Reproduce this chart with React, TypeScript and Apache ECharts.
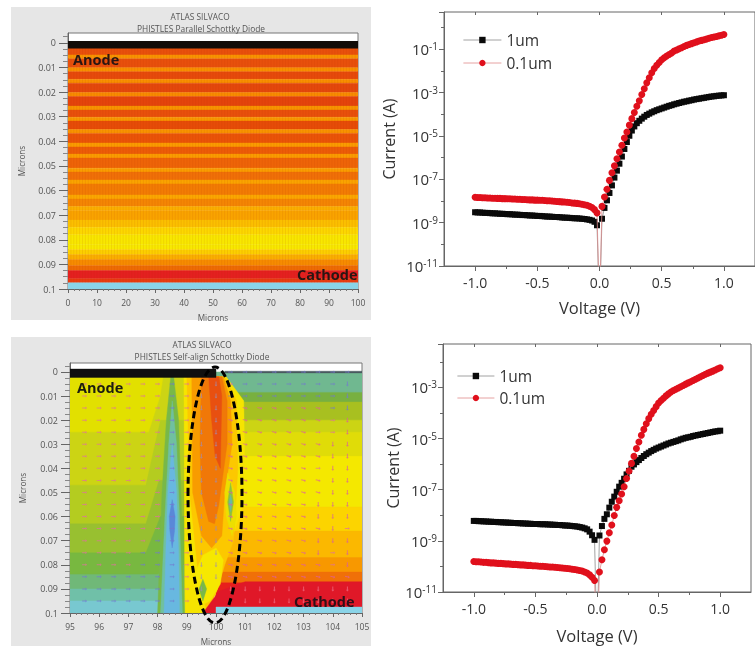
import React, { useEffect, useRef } from "react";
import * as echarts from "echarts";

const FONT = "'Open Sans', sans-serif";

// ---------- I-V curves: log10(current in A) against voltage ----------
const voltage = [
  -1.0, -0.98, -0.96, -0.94, -0.92, -0.9, -0.88, -0.86, -0.84, -0.82,
  -0.8, -0.78, -0.76, -0.74, -0.72, -0.7, -0.68, -0.66, -0.64, -0.62,
  -0.6, -0.58, -0.56, -0.54, -0.52, -0.5, -0.48, -0.46, -0.44, -0.42,
  -0.4, -0.38, -0.36, -0.34, -0.32, -0.3, -0.28, -0.26, -0.24, -0.22,
  -0.2, -0.18, -0.16, -0.14, -0.12, -0.1, -0.08, -0.06, -0.04, -0.02,
  0,
  0.02, 0.04, 0.06, 0.08, 0.1, 0.12, 0.14, 0.16, 0.18, 0.2,
  0.22, 0.24, 0.26, 0.28, 0.3, 0.32, 0.34, 0.36, 0.38, 0.4,
  0.42, 0.44, 0.46, 0.48, 0.5, 0.52, 0.54, 0.56, 0.58, 0.6,
  0.62, 0.64, 0.66, 0.68, 0.7, 0.72, 0.74, 0.76, 0.78, 0.8,
  0.82, 0.84, 0.86, 0.88, 0.9, 0.92, 0.94, 0.96, 0.98, 1.0,
];
const parallel1um = [
  -8.52, -8.53, -8.53, -8.54, -8.55, -8.55, -8.56, -8.57, -8.57, -8.58,
  -8.59, -8.59, -8.6, -8.61, -8.61, -8.62, -8.63, -8.63, -8.64, -8.65,
  -8.65, -8.66, -8.67, -8.67, -8.68, -8.69, -8.69, -8.7, -8.71, -8.72,
  -8.72, -8.73, -8.74, -8.74, -8.75, -8.76, -8.77, -8.77, -8.78, -8.79,
  -8.8, -8.8, -8.81, -8.82, -8.83, -8.85, -8.87, -8.9, -8.96, -9.12,
  -13,
  -8.82, -8.32, -7.97, -7.63, -7.28, -6.92, -6.6, -6.28, -5.95, -5.6,
  -5.28, -4.99, -4.75, -4.56, -4.41, -4.3, -4.2, -4.11, -4.03, -3.97,
  -3.91, -3.86, -3.81, -3.77, -3.73, -3.69, -3.65, -3.61, -3.58, -3.54,
  -3.51, -3.48, -3.45, -3.42, -3.4, -3.37, -3.35, -3.32, -3.3, -3.28,
  -3.26, -3.24, -3.22, -3.2, -3.18, -3.17, -3.15, -3.14, -3.13, -3.12,
];
const parallel01um = [
  -7.83, -7.84, -7.84, -7.85, -7.85, -7.86, -7.86, -7.87, -7.87, -7.88,
  -7.88, -7.89, -7.89, -7.9, -7.9, -7.91, -7.91, -7.92, -7.92, -7.93,
  -7.93, -7.94, -7.95, -7.95, -7.96, -7.96, -7.97, -7.97, -7.98, -7.99,
  -7.99, -8.0, -8.01, -8.02, -8.03, -8.04, -8.05, -8.06, -8.07, -8.09,
  -8.1, -8.11, -8.13, -8.15, -8.17, -8.2, -8.24, -8.3, -8.4, -8.55,
  -13,
  -8.25, -7.82, -7.46, -7.05, -6.7, -6.38, -6.05, -5.74, -5.43, -5.09,
  -4.82, -4.5, -4.2, -3.92, -3.63, -3.38, -3.09, -2.82, -2.55, -2.31,
  -2.08, -1.89, -1.74, -1.61, -1.48, -1.39, -1.31, -1.24, -1.17, -1.08,
  -1.03, -0.98, -0.93, -0.87, -0.82, -0.78, -0.74, -0.7, -0.66, -0.62,
  -0.59, -0.56, -0.53, -0.49, -0.46, -0.43, -0.41, -0.38, -0.35, -0.32,
];
const selfAlign1um = [
  -8.22, -8.22, -8.23, -8.23, -8.24, -8.24, -8.25, -8.25, -8.26, -8.26,
  -8.27, -8.27, -8.28, -8.28, -8.29, -8.29, -8.3, -8.3, -8.31, -8.31,
  -8.32, -8.32, -8.33, -8.33, -8.34, -8.34, -8.34, -8.35, -8.35, -8.35,
  -8.36, -8.36, -8.37, -8.37, -8.38, -8.38, -8.39, -8.4, -8.4, -8.41,
  -8.42, -8.43, -8.44, -8.46, -8.48, -8.51, -8.55, -8.64, -8.78, -8.96,
  -13,
  -8.79, -8.42, -8.14, -7.96, -7.7, -7.47, -7.27, -7.08, -6.88, -6.73,
  -6.57, -6.4, -6.26, -6.1, -6.01, -5.92, -5.84, -5.76, -5.68, -5.61,
  -5.55, -5.49, -5.44, -5.39, -5.35, -5.31, -5.27, -5.23, -5.19, -5.16,
  -5.13, -5.1, -5.07, -5.03, -5.0, -4.97, -4.95, -4.93, -4.9, -4.88,
  -4.86, -4.84, -4.82, -4.8, -4.78, -4.76, -4.74, -4.72, -4.71, -4.69,
];
const selfAlign01um = [
  -9.81, -9.82, -9.82, -9.83, -9.84, -9.84, -9.85, -9.86, -9.86, -9.87,
  -9.88, -9.88, -9.89, -9.9, -9.9, -9.91, -9.92, -9.92, -9.93, -9.94,
  -9.94, -9.95, -9.96, -9.96, -9.97, -9.97, -9.98, -9.99, -9.99, -10.0,
  -10.01, -10.02, -10.02, -10.03, -10.04, -10.05, -10.06, -10.07, -10.08, -10.09,
  -10.11, -10.12, -10.14, -10.16, -10.18, -10.22, -10.26, -10.33, -10.42, -10.55,
  -13,
  -10.22, -9.74, -9.35, -9.01, -8.68, -8.38, -8.01, -7.69, -7.43, -7.17,
  -6.88, -6.56, -6.27, -5.97, -5.69, -5.39, -5.13, -4.87, -4.64, -4.42,
  -4.22, -4.05, -3.9, -3.75, -3.61, -3.51, -3.42, -3.33, -3.25, -3.18,
  -3.12, -3.07, -3.02, -2.97, -2.92, -2.87, -2.82, -2.78, -2.73, -2.68,
  -2.63, -2.58, -2.53, -2.48, -2.44, -2.4, -2.36, -2.32, -2.27, -2.23,
];

// ---------- Parallel diode map: horizontal layers by depth ----------
const layerEdges = [
  0.002, 0.0049, 0.0065, 0.0101, 0.0117, 0.0148, 0.0164, 0.0202, 0.0218, 0.0257, 0.0273,
  0.0302, 0.0318, 0.0352, 0.0368, 0.0407, 0.0423, 0.0452, 0.0468, 0.0509, 0.0525,
  0.0557, 0.0573, 0.0618, 0.0634, 0.0665, 0.0681, 0.072, 0.075, 0.078, 0.082, 0.084,
  0.086, 0.088, 0.0905, 0.0925, 0.0958, 0.0975, 0.1003,
];
const layerColors = [
  "#e8500c", "#f89400", "#e8500c", "#f89000", "#e64a0c", "#f89000", "#e4480c", "#f88c00", "#e4440c", "#f89400",
  "#e8500c", "#f89800", "#e64c08", "#f89400", "#ea5408", "#fa9c00", "#ec5c08", "#fa9c00", "#ee6408", "#fa9e00",
  "#f07008", "#faa400", "#f27c04", "#fba800", "#f48604", "#fbb000", "#f9a400", "#fbc000", "#fcd800", "#f8e800",
  "#f8ea00", "#fcd000", "#fab000", "#f68c00", "#ee6c04", "#e42020", "#e83c10", "#8ad4e8",
];
const meshColumns = [
  1, 2, 3, 4, 5, 6, 7, 8, 9, 10, 11, 12, 13, 14, 15, 16, 17, 18, 19, 20, 21, 22, 23, 24, 25, 26, 27, 28, 29, 30, 31, 32, 33,
  34, 35, 36, 37, 38, 39, 40, 41, 42, 43, 44, 45, 46, 47, 48, 49, 50, 51, 52, 53, 54, 55, 56, 57, 58, 59, 60, 61, 62, 63, 64, 65, 66,
  67, 68, 69, 70, 71, 72, 73, 74, 75, 76, 77, 78, 79, 80, 81, 82, 83, 84, 85, 86, 87, 88, 89, 90, 91, 92, 93, 94, 95, 96, 97, 98, 99,
];

// ---------- Self-aligned diode map: contour zones (micron, micron), back to front ----------
const zoneColors = [
  "#e2e000", "#ccd414", "#b4cc20", "#98c030", "#78b840", "#70b878", "#70c0a8", "#78c8d0",
  "#70b890", "#78b040", "#a8c020", "#ccd414", "#e0dc08", "#f4e800", "#fcd400", "#fbb800", "#f89800", "#f07008", "#e8201c",
  "#78b848", "#70c0a0", "#68b8e0", "#5a88d8",
  "#f6e400", "#fcc800", "#f89c00", "#f07808", "#e85010",
  "#f6e800", "#78b848", "#ecdf00", "#8cc040", "#68b8a8",
  "#e01828", "#8ad4e8", "#101010", "#4a5a60",
];
const zonePoints: number[][][] = [
  [[95, 0.002], [99.2, 0.002], [99.2, 0.1], [95, 0.1]],
  [[95, 0.025], [97.7, 0.025], [98.1, 0.01], [98.2, 0.002], [98.9, 0.002], [98.9, 0.1], [95, 0.1]],
  [[95, 0.047], [97.6, 0.047], [98.1, 0.02], [98.9, 0.02], [98.9, 0.1], [95, 0.1]],
  [[95, 0.063], [97.6, 0.063], [98.05, 0.045], [98.9, 0.045], [98.9, 0.1], [95, 0.1]],
  [[95, 0.075], [97.6, 0.075], [98.1, 0.06], [98.9, 0.06], [98.9, 0.1], [95, 0.1]],
  [[95, 0.084], [98, 0.084], [98.9, 0.08], [98.9, 0.1], [95, 0.1]],
  [[95, 0.09], [98.9, 0.09], [98.9, 0.1], [95, 0.1]],
  [[95, 0.095], [98.9, 0.095], [98.9, 0.1], [95, 0.1]],

  [[100, 0], [105, 0], [105, 0.1], [100, 0.1]],
  [[100, 0.0085], [105, 0.0085], [105, 0.1], [100, 0.1]],
  [[100, 0.0125], [105, 0.0125], [105, 0.1], [100, 0.1]],
  [[100, 0.02], [105, 0.02], [105, 0.1], [100, 0.1]],
  [[100, 0.025], [105, 0.025], [105, 0.1], [100, 0.1]],
  [[100, 0.035], [105, 0.035], [105, 0.1], [100, 0.1]],
  [[100, 0.056], [105, 0.056], [105, 0.1], [100, 0.1]],
  [[100, 0.066], [105, 0.066], [105, 0.1], [100, 0.1]],
  [[100, 0.077], [105, 0.077], [105, 0.1], [100, 0.1]],
  [[100, 0.083], [105, 0.083], [105, 0.1], [100, 0.1]],
  [[100, 0.0875], [105, 0.0875], [105, 0.1], [100, 0.1]],

  [[98.45, 0.002], [98.55, 0.002], [98.72, 0.02], [98.8, 0.05], [98.92, 0.1], [98.0, 0.1], [98.15, 0.05], [98.3, 0.02]],
  [[98.5, 0.012], [98.65, 0.03], [98.75, 0.06], [98.85, 0.1], [98.1, 0.1], [98.25, 0.06], [98.38, 0.03]],
  [[98.5, 0.03], [98.65, 0.05], [98.72, 0.075], [98.75, 0.1], [98.22, 0.1], [98.28, 0.075], [98.35, 0.05]],
  [[98.5, 0.053], [98.6, 0.06], [98.58, 0.066], [98.5, 0.073], [98.42, 0.066], [98.4, 0.06]],

  [[98.9, 0.002], [100.35, 0.002], [100.95, 0.012], [100.98, 0.035], [100.9, 0.056], [100.3, 0.078], [100.05, 0.09], [99.7, 0.1], [98.95, 0.1]],
  [[99.0, 0.002], [100.3, 0.002], [100.7, 0.012], [100.75, 0.04], [100.6, 0.07], [100.3, 0.08], [100.05, 0.09], [99.7, 0.1], [99.4, 0.085], [99.1, 0.05]],
  [[99.17, 0.002], [100.25, 0.002], [100.5, 0.012], [100.55, 0.03], [100.3, 0.05], [100.2, 0.068], [99.85, 0.073], [99.5, 0.068], [99.2, 0.05]],
  [[99.5, 0.002], [100.2, 0.002], [100.38, 0.012], [100.38, 0.03], [100.1, 0.055], [99.95, 0.063], [99.75, 0.062], [99.5, 0.05], [99.45, 0.03]],
  [[99.75, 0.002], [100.1, 0.002], [100.2, 0.01], [100.15, 0.04], [99.97, 0.035], [99.85, 0.02]],

  [[99.3, 0.083], [99.55, 0.076], [100, 0.073], [100.25, 0.078], [100.15, 0.088], [99.8, 0.095], [99.45, 0.097]],
  [[99.55, 0.086], [99.68, 0.09], [99.55, 0.095], [99.42, 0.09]],
  [[100.4, 0.042], [100.65, 0.05], [100.7, 0.06], [100.55, 0.068], [100.35, 0.06], [100.3, 0.05]],
  [[100.5, 0.046], [100.6, 0.054], [100.5, 0.062], [100.4, 0.054]],
  [[100.5, 0.051], [100.55, 0.054], [100.5, 0.058], [100.45, 0.054]],

  [[101.0, 0.087], [105, 0.087], [105, 0.0975], [100, 0.0975], [100, 0.1], [99.55, 0.1], [100.1, 0.091]],
  [[100, 0.0975], [105, 0.0975], [105, 0.1003], [100, 0.1003]],
  [[95, -0.0012], [100, -0.0012], [100, 0.0023], [95, 0.0023]],
  [[100.3, -0.0003], [105, -0.0003], [105, 0.0004], [100.3, 0.0004]],
];

// ---------- Self-aligned diode map: current-direction arrows ----------
const arrowColumns = [95.5, 96, 96.5, 97, 97.5, 98, 98.5, 99, 99.5, 100, 100.5, 101, 101.5, 102, 102.5, 103, 103.5, 104, 104.5];
const arrowRows = [0, 0.005, 0.01, 0.015, 0.02, 0.025, 0.03, 0.035, 0.04, 0.045, 0.05, 0.055, 0.06, 0.065, 0.07, 0.075, 0.08, 0.085, 0.09, 0.095];
const arrowCodes = [
  "..........bbbbbbbbb",
  "hhhhhhbhgghbbbbbbbu",
  "hhhhhhbhggbbbbbbbbu",
  "hhhhhhbhggdddddddbu",
  "hhhhhhbhggdddddddhv",
  "hhhhhhbhggddddddhhv",
  "hhhhhhbhggdddddddvv",
  "hhhhhhbhggdddddddvv",
  "hhhhhhbhggddddddhvv",
  "hhhhhhbhggdddddddvv",
  "hhhhhhbhggdddddddvv",
  "hhhhhhbhggddddddvvv",
  "hhhhhhbhggddddddvvv",
  "hhhhhhbhggdddddddvh",
  "hhhhhbbhggddddddvvv",
  "hhhhbbbhggddddddvhv",
  "hhhhbbbhggdddddddhv",
  "bbbbbbbhggddddddddd",
  "bbbbbbbhg.rrrrrrrrr",
  "bbbbbbbh..rrrrrrrrr",
];
const arrowStyles: Record<string, { rotate: number; color: string }> = {
  h: { rotate: 0, color: "#e070a0" },
  b: { rotate: 0, color: "#7478d0" },
  g: { rotate: -90, color: "#a08cb4" },
  d: { rotate: -14, color: "#e0609c" },
  v: { rotate: -90, color: "#d8609c" },
  u: { rotate: -90, color: "#7478d0" },
  r: { rotate: -90, color: "#f07088" },
};

// ---------- Tick labels ----------
const depthMajor = [0, 0.01, 0.02, 0.03, 0.04, 0.05, 0.06, 0.07, 0.08, 0.09, 0.1];
const depthMinor = [
  0.0025, 0.005, 0.0075, 0.0125, 0.015, 0.0175, 0.0225, 0.025, 0.0275, 0.0325, 0.035, 0.0375, 0.0425, 0.045, 0.0475,
  0.0525, 0.055, 0.0575, 0.0625, 0.065, 0.0675, 0.0725, 0.075, 0.0775, 0.0825, 0.085, 0.0875, 0.0925, 0.095, 0.0975, -0.0025,
];
const voltageMajor = [-1, -0.5, 0, 0.5, 1];
const voltageMinor = [-0.75, -0.25, 0.25, 0.75];

const blackLine = { lineStyle: { color: "#666", width: 1 } };
const axisLine = { show: true, onZero: false, ...blackLine };

function heatX(gridIndex: number, min: number, max: number, interval: number) {
  return {
    type: "value", gridIndex, min, max, interval, position: "bottom",
    name: "Microns", nameLocation: "middle", nameGap: 24,
    nameTextStyle: { fontFamily: FONT, fontSize: 8.2, color: "#555" },
    axisLine,
    axisTick: { show: true, length: 4, ...blackLine },
    minorTick: { show: true, splitNumber: 5, length: 2, lineStyle: { color: "#777", width: 1 } },
    axisLabel: { fontFamily: FONT, fontSize: 8.5, color: "#555", margin: 9, hideOverlap: false },
    splitLine: { show: false },
  };
}
function heatY(gridIndex: number, min: number, nameGap: number) {
  return {
    type: "value", gridIndex, min, max: 0.1, inverse: true, position: "left",
    name: "Microns", nameLocation: "middle", nameGap,
    nameTextStyle: { fontFamily: FONT, fontSize: 8.2, color: "#555" },
    axisLine,
    axisTick: { show: true, length: 9, customValues: depthMajor, ...blackLine },
    axisLabel: { fontFamily: FONT, fontSize: 9, color: "#555", margin: 12, customValues: depthMajor, formatter: (v: number) => String(v) },
    splitLine: { show: false },
  };
}
function heatYMinor(gridIndex: number, min: number) {
  return {
    type: "value", gridIndex, min, max: 0.1, inverse: true, position: "left",
    axisLine: { show: false, onZero: false },
    axisTick: { show: true, length: 5, customValues: depthMinor, lineStyle: { color: "#888", width: 1 } },
    axisLabel: { show: false },
    splitLine: { show: false },
  };
}
function voltX(gridIndex: number, nameGap: number) {
  return {
    type: "value", gridIndex, min: -1.25, max: 1.25, position: "bottom",
    name: "Voltage (V)", nameLocation: "middle", nameGap,
    nameTextStyle: { fontFamily: FONT, fontSize: 16.5, color: "#333" },
    axisLine,
    axisTick: { show: true, length: 5, customValues: voltageMajor, ...blackLine },
    axisLabel: { fontFamily: FONT, fontSize: 14, color: "#333", margin: 9, customValues: voltageMajor, formatter: (v: number) => v.toFixed(1) },
    splitLine: { show: false },
  };
}
function voltXExtra(gridIndex: number, position: string, values: number[], inside: boolean, length: number) {
  return {
    type: "value", gridIndex, min: -1.25, max: 1.25, position,
    axisLine: { show: false, onZero: false },
    axisTick: { show: true, inside, length, customValues: values, ...blackLine },
    axisLabel: { show: false },
    splitLine: { show: false },
  };
}
function currentY(gridIndex: number, max: number, nameGap: number) {
  return {
    type: "value", gridIndex, min: -11, max, interval: 2, position: "left",
    name: "Current (A)", nameLocation: "middle", nameGap,
    nameTextStyle: { fontFamily: FONT, fontSize: 16, color: "#333" },
    axisLine,
    axisTick: { show: true, length: 5, ...blackLine },
    minorTick: { show: true, splitNumber: 2, length: 3, lineStyle: { color: "#666", width: 1 } },
    axisLabel: {
      margin: 6, showMaxLabel: false, showMinLabel: true, hideOverlap: false,
      formatter: (v: number) => `{b|10}{s|${v}}`,
      rich: {
        b: { fontFamily: FONT, fontSize: 15, color: "#333" },
        s: { fontFamily: FONT, fontSize: 10, color: "#333", verticalAlign: "top", padding: [0, 0, 6, 0] },
      },
    },
    splitLine: { show: false },
  };
}

function zoneSeries(xAxisIndex: number, yAxisIndex: number, points: number[][][], colors: string[]) {
  return {
    type: "custom", xAxisIndex, yAxisIndex, silent: true, clip: true, z: 2,
    data: points.map((_, i) => [i, 0]),
    renderItem: (_: unknown, api: any) => {
      const i = api.value(0);
      return {
        type: "polygon",
        shape: { points: points[i].map((p) => api.coord(p)) },
        style: { fill: colors[i], stroke: colors[i], lineWidth: 0.4 },
      };
    },
  };
}
function layerPoints(): number[][][] {
  return layerColors.map((_, i) => [
    [0, layerEdges[i]], [100, layerEdges[i]], [100, layerEdges[i + 1]], [0, layerEdges[i + 1]],
  ]);
}
function meshSeries() {
  return {
    type: "custom", xAxisIndex: 0, yAxisIndex: 0, silent: true, z: 3,
    data: meshColumns.map((x) => [x, 0]),
    renderItem: (_: unknown, api: any) => {
      const x = api.value(0);
      const a = api.coord([x, 0.002]);
      const b = api.coord([x, 0.0975]);
      return {
        type: "line",
        shape: { x1: a[0], y1: a[1], x2: b[0], y2: b[1] },
        style: { stroke: "#b03000", opacity: 0.1, lineWidth: 1 },
      };
    },
  };
}
function arrowData() {
  const out: any[] = [];
  arrowCodes.forEach((row, r) => {
    row.split("").forEach((code, c) => {
      const st = arrowStyles[code];
      if (!st) return;
      out.push({
        value: [arrowColumns[c], arrowRows[r]],
        symbolRotate: st.rotate,
        itemStyle: { color: st.color },
      });
    });
  });
  return out;
}
function curve(name: string, values: number[], xAxisIndex: number, yAxisIndex: number, black: boolean) {
  return {
    name, type: "line", xAxisIndex, yAxisIndex, clip: true, z: black ? 3 : 4,
    data: voltage.map((v, i) => [v, values[i]]),
    showSymbol: true, showAllSymbol: true,
    symbol: black ? "rect" : "circle",
    symbolSize: black ? 6 : 7,
    itemStyle: { color: black ? "#0a0a0a" : "#e0101c" },
    lineStyle: { color: black ? "#8a8a8a" : "#e08a8a", width: 0.8 },
  };
}
function legendBox(left: number, top: number, gap: number, width: number) {
  return {
    show: true, orient: "vertical", left, top, itemGap: gap, itemWidth: width, itemHeight: 8,
    selectedMode: false, data: ["1um", "0.1um"],
    lineStyle: { width: 0.8 },
    textStyle: { fontFamily: FONT, fontSize: 15.5, color: "#333" },
  };
}
function caption(text: string, x: number, y: number, size: number, weight: string, fill: string, align = "center") {
  return { type: "text", x, y, z: 100, silent: true, style: { text, fontFamily: FONT, fontSize: size, fontWeight: weight, fill, align, verticalAlign: "middle" } };
}

export default function App() {
  const ref = useRef<HTMLDivElement>(null);
  useEffect(() => {
    const chart = echarts.init(ref.current!, undefined, { renderer: "svg" });
    chart.setOption({
      animation: false,
      backgroundColor: "#ffffff",
      grid: [
        { left: 68, top: 33, width: 290, height: 256, show: true, backgroundColor: "#ffffff", borderColor: "#777", borderWidth: 1 },
        { left: 70, top: 363, width: 292, height: 251, show: true, backgroundColor: "#ffffff", borderColor: "#777", borderWidth: 1 },
        { left: 444, top: 12, width: 315, height: 254, show: true, borderColor: "#666", borderWidth: 1 },
        { left: 443, top: 344, width: 308, height: 248, show: true, borderColor: "#666", borderWidth: 1 },
      ],
      xAxis: [
        heatX(0, 0, 100, 10),
        heatX(1, 95, 105, 1),
        voltX(2, 33),
        voltXExtra(2, "bottom", voltageMinor, false, 3),
        voltXExtra(2, "top", voltageMajor, true, 3),
        voltX(3, 35),
        voltXExtra(3, "bottom", voltageMinor, false, 3),
        voltXExtra(3, "top", voltageMajor, true, 3),
      ],
      yAxis: [
        heatY(0, -0.004, 43),
        heatY(1, -0.0037, 44),
        heatYMinor(0, -0.004),
        heatYMinor(1, -0.0037),
        currentY(2, 0.72, 47),
        currentY(3, -1.3, 42),
      ],
      legend: [legendBox(458, 27, 7, 38), legendBox(452, 363, 6, 37)],
      series: [
        zoneSeries(0, 0, layerPoints(), layerColors),
        meshSeries(),
        zoneSeries(1, 1, zonePoints, zoneColors),
        {
          type: "scatter", xAxisIndex: 1, yAxisIndex: 1, silent: true, z: 5,
          symbol: "path://M0,2 L8,2 L8,0 L12,3 L8,6 L8,4 L0,4 Z",
          symbolSize: [5, 3], symbolKeepAspect: false,
          itemStyle: { opacity: 0.7 },
          data: arrowData(),
        },
        curve("1um", parallel1um, 2, 4, true),
        curve("0.1um", parallel01um, 2, 4, false),
        curve("1um", selfAlign1um, 5, 5, true),
        curve("0.1um", selfAlign01um, 5, 5, false),
      ],
      graphic: [
        { type: "rect", z: -10, silent: true, shape: { x: 11, y: 7, width: 360, height: 313 }, style: { fill: "#e6e6e6" } },
        { type: "rect", z: -10, silent: true, shape: { x: 11, y: 337, width: 360, height: 309 }, style: { fill: "#e6e6e6" } },
        { type: "rect", z: 50, silent: true, shape: { x: 68, y: 41, width: 290, height: 7.5 }, style: { fill: "#120c08" } },
        caption("ATLAS SILVACO", 200, 16, 8.3, "normal", "#555"),
        caption("PHISTLES Parallel Schottky Diode", 201, 28, 8.4, "normal", "#555"),
        caption("ATLAS SILVACO", 202, 344, 8.3, "normal", "#555"),
        caption("PHISTLES Self-align Schottky Diode", 202, 356, 8.4, "normal", "#555"),
        caption("Anode", 73, 59, 14.5, "700", "#2a1612", "left"),
        caption("Cathode", 297, 274, 14.5, "700", "#2a1612", "left"),
        caption("Anode", 77, 387, 14.5, "700", "#1c1c10", "left"),
        caption("Cathode", 294, 601, 14.5, "700", "#301018", "left"),
        {
          type: "ellipse", z: 60, silent: true,
          shape: { cx: 215, cy: 495, rx: 27, ry: 128 },
          style: { fill: "none", stroke: "#000", lineWidth: 3, lineDash: [7, 4] },
        },
      ],
    });
    return () => chart.dispose();
  }, []);
  return <div ref={ref} style={{ position: "absolute", left: 0, top: 0, width: 755, height: 646, filter: "blur(0.7px)" }} />;
}
